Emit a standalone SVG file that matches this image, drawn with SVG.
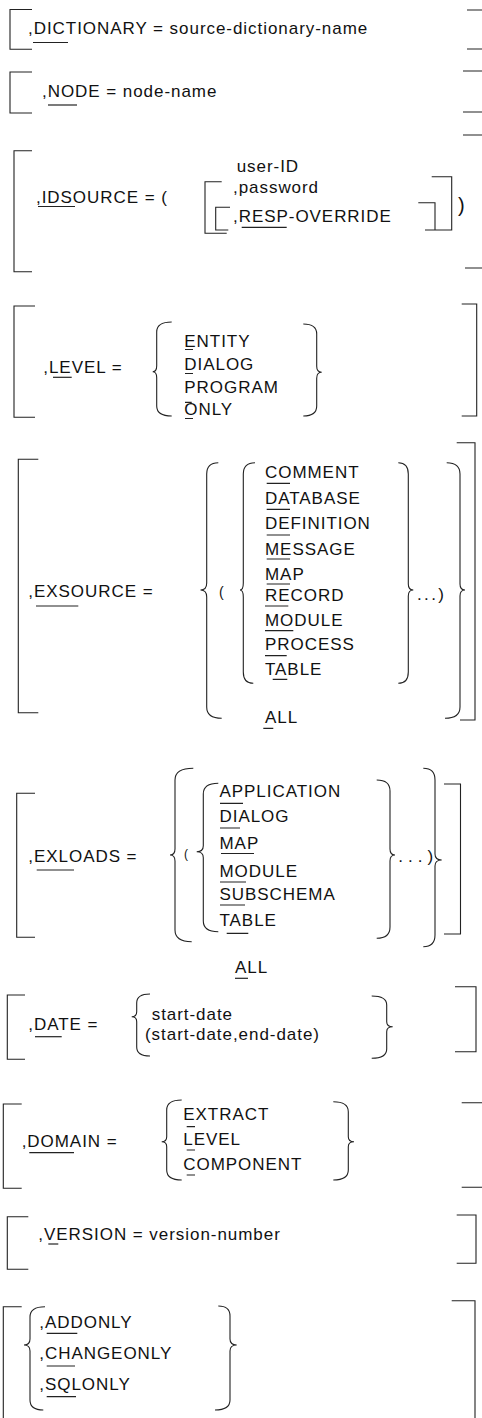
<svg xmlns="http://www.w3.org/2000/svg" width="482" height="1418" viewBox="0 0 482 1418">
<style>
text{font-family:"Liberation Sans",Arial,sans-serif;font-size:17px;letter-spacing:0.95px;fill:#111}
.l{fill:none;stroke:#222;stroke-width:1.1}
.u{fill:none;stroke:#222;stroke-width:1.2}
</style>
<rect width="482" height="1418" fill="#fff"/>
<g id="dictionary">
<path class="l" d="M32,9.5 H10 V49.3 H32"/>
<path class="l" d="M467,10 H482 M467,49 H482"/>
<text x="28" y="33.5">,DICTIONARY = source-dictionary-name</text>
<path class="u" d="M33,42.5 H68"/>
</g>
<g id="node">
<path class="l" d="M32,72 H10 V113 H32"/>
<path class="l" d="M463,71 H482 M463,112 H482"/>
<text x="42" y="97.3">,NODE = node-name</text>
<path class="u" d="M48,105 H77"/>
</g>
<g id="idsource">
<path class="l" d="M32,150.7 H14 V271.7 H32"/>
<path class="l" d="M463,135 H482 M465,268 H482"/>
<text x="36" y="203">,IDSOURCE = (</text>
<path class="u" d="M38,206.5 H75"/>
<text x="236.7" y="171.7">user-ID</text>
<text x="233" y="193.3">,password</text>
<text x="233" y="221.7">,RESP-OVERRIDE</text>
<path class="u" d="M241.7,227.3 H286.7"/>
<path class="l" d="M221.7,181.7 H205 V233.3 H226.7"/>
<path class="l" d="M230,207.3 H215.7 V230 H228.3"/>
<path class="l" d="M418.3,202.7 H435 V230"/>
<path class="l" d="M431.7,176.7 H451.7 V230 H425"/>
<text x="458" y="212" style="font-size:20px">)</text>
</g>
<g id="level">
<path class="l" d="M35,306 H14 V417.3 H35"/>
<path class="l" d="M461.7,304 H476.7 V416 H461.7"/>
<text x="43.3" y="373.3">,LEVEL =</text>
<path class="u" d="M53,377.3 H71.7"/>
<path class="l" d="M171.7,322 Q156.7,322 156.7,332 V365.7 Q156.7,371.7 152.7,371.7 Q156.7,371.7 156.7,377.7 V406 Q156.7,416 171.7,416"/>
<path class="l" d="M303.3,324 Q316.7,324 316.7,334 V366.3 Q316.7,372.3 321.7,372.3 Q316.7,372.3 316.7,378.3 V406 Q316.7,416 303.3,416"/>
<text x="184.3" y="346.7">ENTITY</text>
<text x="184.3" y="370">DIALOG</text>
<text x="184.3" y="393.3">PROGRAM</text>
<text x="184.3" y="415">ONLY</text>
<path class="u" d="M185,349.5 H193 M185,373.5 H193 M185,402.3 H191.7 M185,418.5 H193"/>
</g>
<g id="exsource">
<path class="l" d="M38.3,459.3 H18.3 V712.7 H38.3"/>
<path class="l" d="M456.7,442.7 H475 V720 H460"/>
<text x="28.3" y="596.7">,EXSOURCE =</text>
<path class="u" d="M36,606 H78.3"/>
<path class="l" d="M218.3,462.7 Q206.7,462.7 206.7,474 V583 Q206.7,590 200.5,590 Q206.7,590 206.7,597 V707 Q206.7,718.3 221.7,718.3"/>
<path class="l" d="M255,462.7 Q243.3,462.7 243.3,474 V583 Q243.3,590 240,590 Q243.3,590 243.3,597 V672 Q243.3,683.3 253.3,683.3"/>
<text x="219" y="597" style="font-size:14px">(</text>
<text x="265" y="478.3">COMMENT</text>
<text x="265" y="504">DATABASE</text>
<text x="265" y="529.3">DEFINITION</text>
<text x="265" y="555">MESSAGE</text>
<text x="265" y="580">MAP</text>
<text x="265" y="601">RECORD</text>
<text x="265" y="626">MODULE</text>
<text x="265" y="650">PROCESS</text>
<text x="265" y="675">TABLE</text>
<text x="265" y="722.7">ALL</text>
<path class="u" d="M266.7,483.3 H290 M266.7,509.3 H290 M266.7,535 H290 M266.7,559 H290 M266.7,584 H290 M265,606 H288.3 M265,630.7 H293.3 M265,655.7 H286.7 M272.7,679.3 H287.3 M263.3,728.3 H273.3"/>
<path class="l" d="M398.3,462.7 Q408.3,462.7 408.3,474 V584 Q408.3,590 413.3,590 Q408.3,590 408.3,596 V672 Q408.3,683.3 398.3,683.3"/>
<text x="417" y="600" style="letter-spacing:2.4px">...)</text>
<path class="l" d="M446.7,462.7 Q460,462.7 460,474 V584 Q460,590 465,590 Q460,590 460,596 V707 Q460,718.3 445,718.3"/>
</g>
<g id="exloads">
<path class="l" d="M35,793.3 H16.7 V937.3 H35"/>
<path class="l" d="M444,784 H460.5 V934 H444"/>
<text x="28.3" y="861.7">,EXLOADS =</text>
<path class="u" d="M36.7,870 H74"/>
<path class="l" d="M193.3,768.3 Q175,768.3 175,780 V849 Q175,855 170,855 Q175,855 175,861 V930 Q175,941.7 191.7,941.7"/>
<text x="184" y="858" style="font-size:12px">(</text>
<path class="l" d="M218.3,783.3 Q203.3,783.3 203.3,794 V845.7 Q203.3,851.7 196.7,851.7 Q203.3,851.7 203.3,857.7 V921 Q203.3,931.7 218.3,931.7"/>
<text x="219.5" y="796.7">APPLICATION</text>
<text x="219.5" y="822">DIALOG</text>
<text x="219.5" y="848.5">MAP</text>
<text x="219.5" y="876.7">MODULE</text>
<text x="219.5" y="900">SUBSCHEMA</text>
<text x="219.5" y="926">TABLE</text>
<path class="u" d="M220,803.3 H243 M220,828 H240 M221,853.5 H254 M220,882 H246 M220,905 H245 M226.7,933.3 H248.3"/>
<path class="l" d="M376.7,780 Q390,780 390,791 V849 Q390,855 395,855 Q390,855 390,861 V927 Q390,938.3 376.7,938.3"/>
<text x="398.3" y="861.7" style="letter-spacing:5px">...)</text>
<path class="l" d="M423.3,768.3 Q435,768.3 435,780 V854 Q435,860 441.7,860 Q435,860 435,866 V935 Q435,946.7 423.3,946.7"/>
<text x="235" y="973.3">ALL</text>
<path class="u" d="M235,978.3 H248"/>
</g>
<g id="date">
<path class="l" d="M25,995 H7.3 V1059.3 H25"/>
<path class="l" d="M455,986.7 H476 V1051.7 H455"/>
<text x="28.3" y="1030">,DATE =</text>
<path class="u" d="M35,1036.7 H61.7"/>
<path class="l" d="M150,994 Q136.7,994 136.7,1003 V1011.7 Q136.7,1016.7 131.7,1016.7 Q136.7,1016.7 136.7,1021.7 V1047 Q136.7,1056 150,1056"/>
<text x="151.7" y="1020">start-date</text>
<text x="145" y="1040">(start-date,end-date)</text>
<path class="l" d="M371.7,996 Q386.7,996 386.7,1005 V1021.7 Q386.7,1026.7 392.7,1026.7 Q386.7,1026.7 386.7,1031.7 V1049 Q386.7,1058.3 371.7,1058.3"/>
</g>
<g id="domain">
<path class="l" d="M21.7,1104 H3.3 V1188.3 H21.7"/>
<path class="l" d="M461.7,1102.7 H482 M461.7,1187.3 H482"/>
<text x="21.7" y="1146.7">,DOMAIN =</text>
<path class="u" d="M29.3,1152.7 H74"/>
<path class="l" d="M181.7,1100 Q166.7,1100 166.7,1110 V1136.7 Q166.7,1141.7 161.7,1141.7 Q166.7,1141.7 166.7,1146.7 V1170 Q166.7,1180 181.7,1180"/>
<text x="183.3" y="1120">EXTRACT</text>
<text x="183.3" y="1145">LEVEL</text>
<text x="183.3" y="1170">COMPONENT</text>
<path class="u" d="M186.7,1126.7 H195 M186.7,1150 H195 M186.7,1175 H195"/>
<path class="l" d="M333.3,1101.7 Q348.3,1101.7 348.3,1111.7 V1136.7 Q348.3,1141.7 354,1141.7 Q348.3,1141.7 348.3,1146.7 V1170 Q348.3,1180 333.3,1180"/>
</g>
<g id="version">
<path class="l" d="M28.3,1216.7 H7.3 V1269.3 H28.3"/>
<path class="l" d="M456.7,1215 H476 V1263.3 H456.7"/>
<text x="38.3" y="1240">,VERSION = version-number</text>
<path class="u" d="M48.3,1244 H58.3"/>
</g>
<g id="addonly">
<path class="l" d="M21.7,1306.7 H3.3 V1418"/>
<path class="l" d="M451.7,1300.7 H475 V1418"/>
<path class="l" d="M45,1306.7 Q30,1306.7 30,1317 V1339 Q30,1345 24,1345 Q30,1345 30,1351 V1400 Q30,1410 43.3,1410"/>
<text x="39.3" y="1328.3">,ADDONLY</text>
<text x="39.3" y="1359.3">,CHANGEONLY</text>
<text x="39.3" y="1390">,SQLONLY</text>
<path class="u" d="M46.7,1333.3 H77.3 M46.7,1366 H75 M46.7,1396.7 H76"/>
<path class="l" d="M218.3,1306 Q230,1306 230,1316 V1339 Q230,1345 236.7,1345 Q230,1345 230,1351 V1400 Q230,1410 215,1410"/>
</g>
</svg>
